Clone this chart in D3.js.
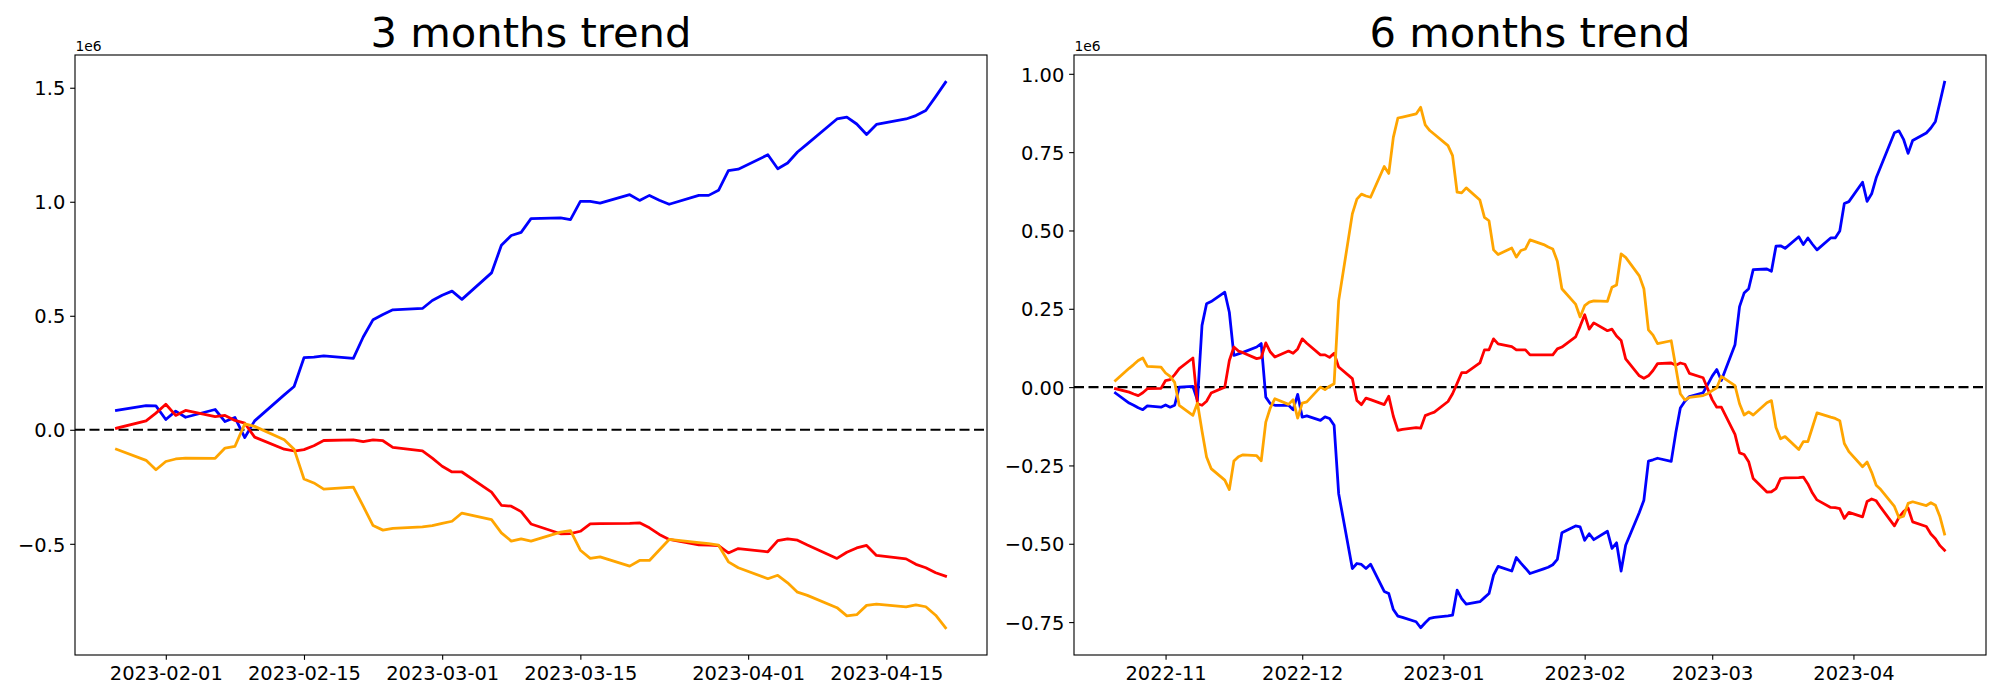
<!DOCTYPE html>
<html>
<head>
<meta charset="utf-8">
<script src="https://cdnjs.cloudflare.com/ajax/libs/d3/7.8.5/d3.min.js"></script>
<style>
  body { margin: 0; background: #fff; }
  svg text { font-family: "DejaVu Sans", sans-serif; fill: #000; }
</style>
</head>
<body>
<div id="chart"></div>
<script>
// values are in millions (the axes show a "1e6" offset)

const dates3m = [
  "2023-01-27","2023-01-30","2023-01-31",
  "2023-02-01","2023-02-02","2023-02-03","2023-02-06","2023-02-07","2023-02-08","2023-02-09","2023-02-10",
  "2023-02-13","2023-02-14","2023-02-15","2023-02-16","2023-02-17","2023-02-20","2023-02-21","2023-02-22",
  "2023-02-23","2023-02-24","2023-02-27","2023-02-28",
  "2023-03-01","2023-03-02","2023-03-03","2023-03-06","2023-03-07","2023-03-08","2023-03-09","2023-03-10",
  "2023-03-13","2023-03-14","2023-03-15","2023-03-16","2023-03-17","2023-03-20","2023-03-21","2023-03-22",
  "2023-03-23","2023-03-24","2023-03-27","2023-03-28","2023-03-29","2023-03-30","2023-03-31",
  "2023-04-03","2023-04-04","2023-04-05","2023-04-06","2023-04-07","2023-04-10","2023-04-11","2023-04-12",
  "2023-04-13","2023-04-14","2023-04-17","2023-04-18","2023-04-19","2023-04-20","2023-04-21"
];
const blue3m = [
  0.085, 0.106, 0.105,
  0.045, 0.082, 0.055, 0.089, 0.036, 0.054, -0.034, 0.039, 0.153, 0.190, 0.316, 0.319, 0.324, 0.313, 0.407, 0.483,
  0.506, 0.526, 0.532, 0.567,
  0.590, 0.608, 0.572, 0.688, 0.809, 0.852, 0.866, 0.926, 0.929, 0.922, 1.002, 1.002, 0.994, 1.031, 1.006, 1.028,
  1.007, 0.989, 1.028, 1.028, 1.050, 1.137, 1.143,
  1.206, 1.145, 1.170, 1.218, 1.254, 1.363, 1.371, 1.341, 1.295, 1.339, 1.363, 1.378, 1.400, 1.461, 1.524
];
const red3m = [
  0.007, 0.039, 0.073,
  0.112, 0.063, 0.085, 0.058, 0.063, 0.041, 0.029, -0.032, -0.085, -0.093, -0.087, -0.070, -0.047, -0.044, -0.052, -0.044,
  -0.048, -0.077, -0.092, -0.124,
  -0.160, -0.185, -0.185, -0.273, -0.331, -0.335, -0.359, -0.413, -0.456, -0.455, -0.445, -0.413, -0.411, -0.410, -0.408, -0.430,
  -0.459, -0.481, -0.505, -0.506, -0.508, -0.540, -0.521,
  -0.535, -0.486, -0.478, -0.484, -0.505, -0.564, -0.537, -0.518, -0.507, -0.551, -0.566, -0.590, -0.605, -0.627, -0.642
];
const orange3m = [
  -0.085, -0.134, -0.175,
  -0.139, -0.128, -0.124, -0.125, -0.080, -0.073, 0.026, 0.015, -0.044, -0.085, -0.216, -0.233, -0.260, -0.251, -0.335, -0.420,
  -0.440, -0.432, -0.426, -0.420,
  -0.410, -0.401, -0.365, -0.394, -0.452, -0.488, -0.478, -0.488, -0.449, -0.442, -0.528, -0.564, -0.557, -0.598, -0.573, -0.573,
  -0.527, -0.481, -0.495, -0.499, -0.506, -0.579, -0.605,
  -0.653, -0.638, -0.671, -0.712, -0.726, -0.780, -0.816, -0.811, -0.770, -0.765, -0.777, -0.768, -0.776, -0.813, -0.868
];

const dates6m = [
  "2022-10-21","2022-10-24","2022-10-25","2022-10-26","2022-10-27","2022-10-28","2022-10-31",
  "2022-11-01","2022-11-02","2022-11-03","2022-11-04","2022-11-07","2022-11-08","2022-11-09","2022-11-10","2022-11-11",
  "2022-11-14","2022-11-15","2022-11-16","2022-11-17","2022-11-18","2022-11-21","2022-11-22","2022-11-23","2022-11-24",
  "2022-11-25","2022-11-28","2022-11-29","2022-11-30",
  "2022-12-01","2022-12-02","2022-12-05","2022-12-06","2022-12-07","2022-12-08","2022-12-09","2022-12-12","2022-12-13",
  "2022-12-14","2022-12-15","2022-12-16","2022-12-19","2022-12-20","2022-12-21","2022-12-22","2022-12-23","2022-12-26",
  "2022-12-27","2022-12-28","2022-12-29","2022-12-30",
  "2023-01-02","2023-01-03","2023-01-04","2023-01-05","2023-01-06","2023-01-09","2023-01-10","2023-01-11","2023-01-12",
  "2023-01-13","2023-01-16","2023-01-17","2023-01-18","2023-01-19","2023-01-20","2023-01-23","2023-01-24","2023-01-25",
  "2023-01-26","2023-01-27","2023-01-30","2023-01-31",
  "2023-02-01","2023-02-02","2023-02-03","2023-02-06","2023-02-07","2023-02-08","2023-02-09","2023-02-10",
  "2023-02-13","2023-02-14","2023-02-15","2023-02-16","2023-02-17","2023-02-20","2023-02-21","2023-02-22",
  "2023-02-23","2023-02-24","2023-02-27","2023-02-28",
  "2023-03-01","2023-03-02","2023-03-03","2023-03-06","2023-03-07","2023-03-08","2023-03-09","2023-03-10",
  "2023-03-13","2023-03-14","2023-03-15","2023-03-16","2023-03-17","2023-03-20","2023-03-21","2023-03-22",
  "2023-03-23","2023-03-24","2023-03-27","2023-03-28","2023-03-29","2023-03-30","2023-03-31",
  "2023-04-03","2023-04-04","2023-04-05","2023-04-06","2023-04-07","2023-04-10","2023-04-11","2023-04-12",
  "2023-04-13","2023-04-14","2023-04-17","2023-04-18","2023-04-19","2023-04-20","2023-04-21"
];
const blue6m = [
  -0.019, -0.051, -0.058, -0.066, -0.072, -0.060, -0.064,
  -0.057, -0.064, -0.058, 0.000, 0.002, -0.042, 0.197, 0.266, 0.273, 0.303, 0.239, 0.101, 0.106, 0.111, 0.128, 0.139,
  -0.032, -0.053, -0.058, -0.058, -0.072, -0.023,
  -0.096, -0.092, -0.106, -0.095, -0.100, -0.122, -0.340, -0.579, -0.563, -0.566, -0.579, -0.565, -0.652, -0.659,
  -0.710, -0.731, -0.735, -0.749, -0.768, -0.752, -0.738, -0.735,
  -0.730, -0.728, -0.648, -0.675, -0.693, -0.685, -0.672, -0.659, -0.600, -0.572, -0.587, -0.544, -0.562, -0.578,
  -0.595, -0.580, -0.575, -0.567, -0.550, -0.465, -0.443, -0.446,
  -0.489, -0.468, -0.487, -0.460, -0.515, -0.497, -0.587, -0.505, -0.400, -0.361, -0.236, -0.232, -0.227, -0.237,
  -0.146, -0.067, -0.045, -0.030, -0.018, 0.008,
  0.035, 0.056, 0.021, 0.135, 0.257, 0.300, 0.314, 0.375, 0.377, 0.370, 0.450, 0.451, 0.443, 0.480, 0.455, 0.476,
  0.456, 0.438, 0.476, 0.476, 0.498, 0.586, 0.592,
  0.654, 0.593, 0.617, 0.668, 0.704, 0.812, 0.818, 0.791, 0.746, 0.787, 0.811, 0.827, 0.848, 0.910, 0.973
];
const red6m = [
  -0.005, -0.016, -0.022, -0.027, -0.018, -0.005, -0.004,
  0.021, 0.024, 0.040, 0.059, 0.093, -0.053, -0.058, -0.045, -0.019, 0.000, 0.085, 0.128, 0.115, 0.110, 0.091, 0.094,
  0.141, 0.112, 0.096, 0.115, 0.108, 0.122,
  0.154, 0.140, 0.103, 0.103, 0.095, 0.108, 0.064, 0.027, -0.043, -0.056, -0.035, -0.040, -0.056, -0.029,
  -0.093, -0.138, -0.135, -0.129, -0.131, -0.091, -0.085, -0.080,
  -0.046, -0.021, 0.012, 0.046, 0.046, 0.077, 0.119, 0.119, 0.154, 0.138, 0.129, 0.119, 0.119, 0.119,
  0.103, 0.103, 0.103, 0.103, 0.122, 0.128, 0.160, 0.194,
  0.231, 0.185, 0.205, 0.180, 0.185, 0.163, 0.149, 0.090, 0.036, 0.028, 0.036, 0.053, 0.075, 0.077,
  0.070, 0.077, 0.073, 0.044, 0.030, -0.005,
  -0.040, -0.064, -0.064, -0.151, -0.210, -0.215, -0.238, -0.292, -0.335, -0.334, -0.324, -0.292, -0.290, -0.289,
  -0.287, -0.309, -0.338, -0.360, -0.384, -0.385, -0.388, -0.419, -0.400,
  -0.414, -0.365, -0.357, -0.363, -0.384, -0.443, -0.416, -0.397, -0.386, -0.430, -0.445, -0.469, -0.484, -0.506, -0.521
];
const orange6m = [
  0.021, 0.060, 0.072, 0.085, 0.093, 0.066, 0.064,
  0.045, 0.034, 0.015, -0.058, -0.090, -0.051, -0.140, -0.223, -0.260, -0.297, -0.327, -0.236, -0.222, -0.216, -0.219,
  -0.235, -0.112, -0.066, -0.037, -0.055, -0.040, -0.099,
  -0.051, -0.047, 0.000, -0.008, 0.003, 0.011, 0.276, 0.553, 0.600, 0.616, 0.610, 0.606, 0.704, 0.682,
  0.797, 0.859, 0.862, 0.872, 0.893, 0.837, 0.819, 0.807,
  0.771, 0.739, 0.622, 0.620, 0.636, 0.597, 0.542, 0.531, 0.438, 0.423, 0.444, 0.415, 0.436, 0.441,
  0.470, 0.455, 0.447, 0.441, 0.402, 0.314, 0.265, 0.224,
  0.260, 0.271, 0.275, 0.274, 0.319, 0.326, 0.425, 0.414, 0.355, 0.314, 0.183, 0.166, 0.139, 0.148,
  0.064, -0.021, -0.041, -0.033, -0.027, -0.021,
  -0.011, -0.002, 0.034, 0.005, -0.053, -0.089, -0.079, -0.089, -0.050, -0.043, -0.129, -0.165, -0.158, -0.199,
  -0.174, -0.174, -0.128, -0.082, -0.096, -0.100, -0.107, -0.180, -0.206,
  -0.254, -0.239, -0.272, -0.313, -0.327, -0.381, -0.417, -0.412, -0.371, -0.366, -0.378, -0.369, -0.377, -0.414, -0.469
];

const xTicks3m = ["2023-02-01", "2023-02-15", "2023-03-01", "2023-03-15", "2023-04-01", "2023-04-15"];
const xTicks6m = ["2022-11-01", "2022-12-01", "2023-01-01", "2023-02-01", "2023-03-01", "2023-04-01"];
const yTicks3m = [-0.5, 0, 0.5, 1.0, 1.5];
const yTicks6m = [-0.75, -0.5, -0.25, 0, 0.25, 0.5, 0.75, 1.0];

const seriesColors = ["blue", "red", "orange"];

const parseDate = d3.utcParse("%Y-%m-%d");
const PT = 100 / 72; // matplotlib points -> px at 100 dpi

function makeX(dates, left, right) {
    const ext = d3.extent(dates);
    const pad = (ext[1] - ext[0]) * 0.05;
    return d3.scaleUtc()
        .domain([new Date(+ext[0] - pad), new Date(+ext[1] + pad)])
        .range([left, right]);
}

function makeY(series, top, bottom) {
    const ext = d3.extent(series.flat());
    const pad = (ext[1] - ext[0]) * 0.05;
    return d3.scaleLinear()
        .domain([ext[0] - pad, ext[1] + pad])
        .range([bottom, top]);
}

function drawPanel(svg, panel) {
    const { left, right, top, bottom } = panel.box;
    const dates = panel.dates.map(parseDate);
    const x = makeX(dates, left, right);
    const y = makeY(panel.series, top, bottom);
    const g = svg.append("g");

    // zero line across the whole axes
    g.append("line")
        .attr("x1", left).attr("x2", right)
        .attr("y1", y(0)).attr("y2", y(0))
        .attr("stroke", "#000")
        .attr("stroke-width", 2.1)
        .attr("stroke-dasharray", "10,4.5");

    const line = d3.line()
        .x((d) => x(d[0]))
        .y((d) => y(d[1]));

    panel.series.forEach((values, i) => {
        g.append("path")
            .datum(values.map((v, j) => [dates[j], v]))
            .attr("fill", "none")
            .attr("stroke", seriesColors[i])
            .attr("stroke-width", 2 * PT)
            .attr("stroke-linejoin", "round")
            .attr("stroke-linecap", "square")
            .attr("d", line);
    });

    const xAxis = d3.axisBottom(x)
        .tickValues(panel.xTicks.map(parseDate))
        .tickFormat(d3.utcFormat(panel.xFormat))
        .tickSize(3.5 * PT)
        .tickPadding(3.5 * PT);
    g.append("g")
        .attr("transform", `translate(0,${bottom})`)
        .call(xAxis)
        .call((a) => a.select(".domain").remove())
        .call((a) => a.selectAll("line").attr("stroke", "#000").attr("stroke-width", 0.8 * PT))
        .call((a) => a.selectAll("text")
            .attr("font-size", 14 * PT)
            .attr("font-family", "DejaVu Sans")
            .attr("fill", "#000")
            .attr("dy", "0.81em"));

    const yAxis = d3.axisLeft(y)
        .tickValues(panel.yTicks)
        .tickFormat(d3.format(panel.yFormat))
        .tickSize(3.5 * PT)
        .tickPadding(3.5 * PT);
    g.append("g")
        .attr("transform", `translate(${left},0)`)
        .call(yAxis)
        .call((a) => a.select(".domain").remove())
        .call((a) => a.selectAll("line").attr("stroke", "#000").attr("stroke-width", 0.8 * PT))
        .call((a) => a.selectAll("text")
            .attr("font-size", 14 * PT)
            .attr("font-family", "DejaVu Sans")
            .attr("fill", "#000")
            .attr("dy", "0.37em"));

    // frame
    g.append("rect")
        .attr("x", left).attr("y", top)
        .attr("width", right - left).attr("height", bottom - top)
        .attr("fill", "none")
        .attr("stroke", "#000")
        .attr("stroke-width", 0.8 * PT);

    // offset text
    g.append("text")
        .attr("x", left + 0.5)
        .attr("y", top - 4.5)
        .attr("font-size", 10 * PT)
        .text("1e6");

    g.append("text")
        .attr("x", (left + right) / 2)
        .attr("y", 46.7)
        .attr("text-anchor", "middle")
        .attr("font-size", 30 * PT)
        .text(panel.title);
}

const svg = d3.select("#chart").append("svg")
    .attr("width", 2000)
    .attr("height", 700)
    .style("background", "#fff");

drawPanel(svg, {
    title: "3 months trend",
    box: { left: 75, right: 987, top: 55, bottom: 655 },
    dates: dates3m,
    series: [blue3m, red3m, orange3m],
    xTicks: xTicks3m,
    xFormat: "%Y-%m-%d",
    yTicks: yTicks3m,
    yFormat: ".1f"
});

drawPanel(svg, {
    title: "6 months trend",
    box: { left: 1074, right: 1986, top: 55, bottom: 655 },
    dates: dates6m,
    series: [blue6m, red6m, orange6m],
    xTicks: xTicks6m,
    xFormat: "%Y-%m",
    yTicks: yTicks6m,
    yFormat: ".2f"
});
</script>
</body>
</html>
